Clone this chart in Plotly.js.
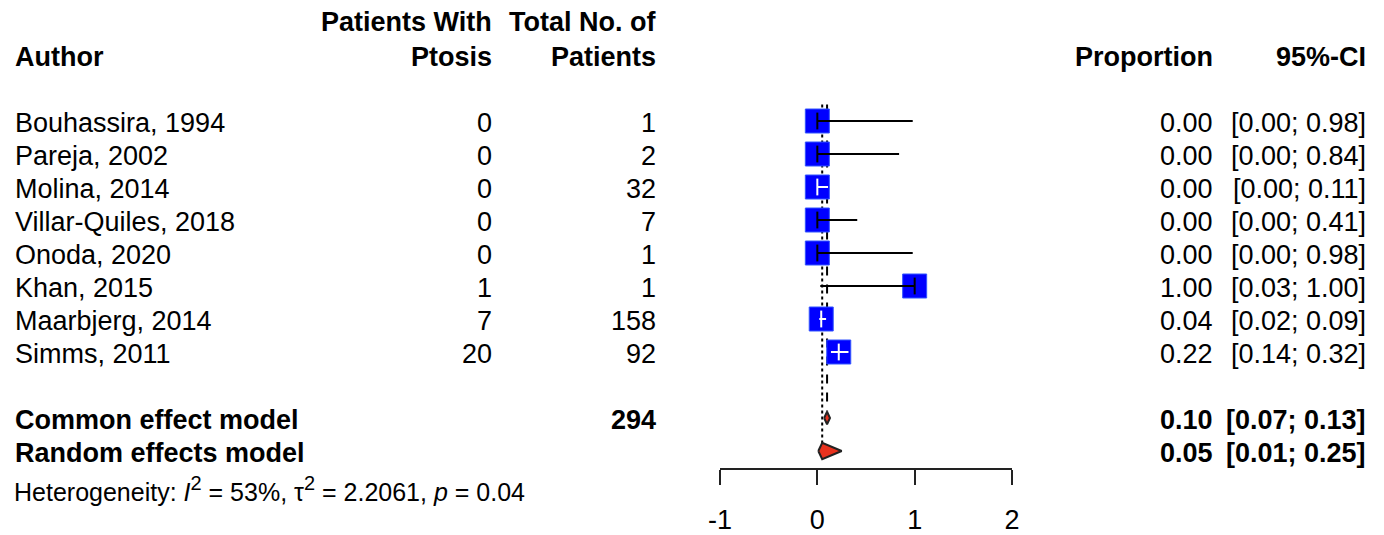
<!DOCTYPE html>
<html>
<head>
<meta charset="utf-8">
<script src="https://cdn.plot.ly/plotly-3.0.1.min.js"></script>
<style>html,body{margin:0;padding:0;background:#fff;}#chart{width:1384px;height:535px;}</style>
</head>
<body>
<div id="chart"></div>
<script>
// ---- data ----
const authors = ["Bouhassira, 1994","Pareja, 2002","Molina, 2014","Villar-Quiles, 2018","Onoda, 2020","Khan, 2015","Maarbjerg, 2014","Simms, 2011"];
const events = [0,0,0,0,0,1,7,20];
const totals = [1,2,32,7,1,1,158,92];
const props = [0.00,0.00,0.00,0.00,0.00,1.00,0.04,0.22];
const ciLower = [0.00,0.00,0.00,0.00,0.00,0.03,0.02,0.14];
const ciUpper = [0.98,0.84,0.11,0.41,0.98,1.00,0.09,0.32];
const pooledLabels = ["Common effect model","Random effects model"];
const pooledTotal = 294;
const pooledEst = [0.10,0.05];
const pooledLower = [0.07,0.01];
const pooledUpper = [0.13,0.25];
const hetI2 = "53%", hetTau2 = "2.2061", hetP = "0.04";
const tickVals = [-1,0,1,2];
const tickText = ["-1","0","1","2"];

// ---- layout helpers ----
const W = 1384, H = 535;
const FONT = "Liberation Sans, Arial, sans-serif";
const FS = 27;
const xPlotLeft = 720, xPlotRight = 1012;
const unitsPerPx = 3 / (xPlotRight - xPlotLeft);
const sqPx = 25;
const sqUnits = sqPx * unitsPerPx;
const rowOf = i => i;            // study rows 0..7
const pooledRow = [9, 10];
const px = p => p / W;

const traces = [];
const n = authors.length;
// vertical reference lines (common = dashed, random = dotted)
traces.push({x:[pooledEst[0],pooledEst[0]], y:[-0.5, pooledRow[0]-0.2], mode:"lines", line:{color:"#000",width:2,dash:"dash"}, hoverinfo:"skip", showlegend:false});
traces.push({x:[pooledEst[1],pooledEst[1]], y:[-0.5, pooledRow[1]-0.2], mode:"lines", line:{color:"#000",width:2,dash:"dot"}, hoverinfo:"skip", showlegend:false});

// squares
traces.push({x:props, y:authors.map((_, i)=>rowOf(i)), mode:"markers", marker:{symbol:"square", size:sqPx-1, color:"#0000FF", line:{color:"#3355ff", width:1}}, hoverinfo:"skip", showlegend:false});

// CI lines + tick at estimate
for (let i = 0; i < n; i++) {
  const inside = (ciUpper[i] - ciLower[i]) < sqUnits;
  const col = inside ? "#ffffff" : "#000000";
  traces.push({x:[ciLower[i], ciUpper[i]], y:[rowOf(i), rowOf(i)], mode:"lines", line:{color:col, width:2}, hoverinfo:"skip", showlegend:false});
  traces.push({x:[props[i]], y:[rowOf(i)], mode:"markers", marker:{symbol:"line-ns", size:12, line:{color:col, width:2}}, hoverinfo:"skip", showlegend:false});
}

// diamonds
const halfH = [0.19, 0.25];
for (let k = 0; k < 2; k++) {
  const r = pooledRow[k];
  traces.push({x:[pooledLower[k], pooledEst[k], pooledUpper[k], pooledEst[k], pooledLower[k]],
               y:[r, r-halfH[k], r, r+halfH[k], r], mode:"lines", fill:"toself",
               fillcolor:"#E8321E", line:{color:"#222", width:2}, hoverinfo:"skip", showlegend:false});
}

// annotations
const ann = [];
function t(text, xPix, y, anchor, opts) {
  opts = opts || {};
  ann.push({text:text, xref:"paper", yref:"y", x:px(xPix), y:y, xanchor:anchor, yanchor:"middle",
            showarrow:false, yshift: opts.yshift||0,
            font:{family:FONT, size:opts.size||FS, color:"#000"}});
}
const colAuthor = 13, colEv = 494, colTot = 658, colProp = 1215, colCI = 1368;
// headers
t("<b>Author</b>", colAuthor, -1.95, "left");
t("<b>Patients With</b>", colEv, -3.0, "right");
t("<b>Ptosis</b>", colEv, -1.95, "right");
t("<b>Total No. of</b>", colTot, -3.0, "right");
t("<b>Patients</b>", colTot, -1.95, "right");
t("<b>Proportion</b>", colProp, -1.95, "right");
t("<b>95%-CI</b>", colCI, -1.95, "right");
// studies
for (let i = 0; i < n; i++) {
  const y = rowOf(i);
  t(authors[i], colAuthor, y, "left", {yshift:-2});
  t(String(events[i]), colEv, y, "right", {yshift:-2});
  t(String(totals[i]), colTot, y, "right", {yshift:-2});
  t(props[i].toFixed(2), colProp, y, "right", {yshift:-2});
  t("[" + ciLower[i].toFixed(2) + "; " + ciUpper[i].toFixed(2) + "]", colCI, y, "right", {yshift:-2});
}
// pooled
for (let k = 0; k < 2; k++) {
  const y = pooledRow[k];
  t("<b>" + pooledLabels[k] + "</b>", colAuthor, y, "left", {yshift:-2});
  if (k === 0) t("<b>" + pooledTotal + "</b>", colTot, y, "right", {yshift:-2});
  t("<b>" + pooledEst[k].toFixed(2) + "</b>", colProp, y, "right", {yshift:-2});
  t("<b>[" + pooledLower[k].toFixed(2) + "; " + pooledUpper[k].toFixed(2) + "]</b>", colCI, y, "right", {yshift:-2});
}
const sup = s => "<sup><span style=\"font-size:20px\">" + s + "</span></sup>";
const hetText = "Heterogeneity: <i>I</i>" + sup("2") + " = " + hetI2 + ", τ" + sup("2") + " = " + hetTau2 + ", <i>p</i> = " + hetP;
t(hetText, 12, 11.15, "left", {size:25});

const yTop = -121/33, yBot = (H-121)/33;
const layout = {
  width:W, height:H, margin:{l:0,r:0,t:0,b:0}, paper_bgcolor:"#fff", plot_bgcolor:"#fff",
  showlegend:false,
  xaxis:{domain:[px(xPlotLeft), px(xPlotRight)], range:[-1,2], anchor:"free", position:1 - 469/H,
         showline:true, linecolor:"#222", linewidth:2, ticks:"outside", ticklen:15, tickwidth:2, tickcolor:"#222",
         tickvals:tickVals, ticktext:tickText, showgrid:false, zeroline:false, automargin:false,
         ticklabelstandoff:12, tickfont:{family:FONT, size:FS, color:"#000"}},
  yaxis:{domain:[0,1], range:[yBot, yTop], visible:false, showgrid:false, zeroline:false},
  annotations:ann
};
Plotly.newPlot("chart", traces, layout, {staticPlot:true, displayModeBar:false});
</script>
</body>
</html>
